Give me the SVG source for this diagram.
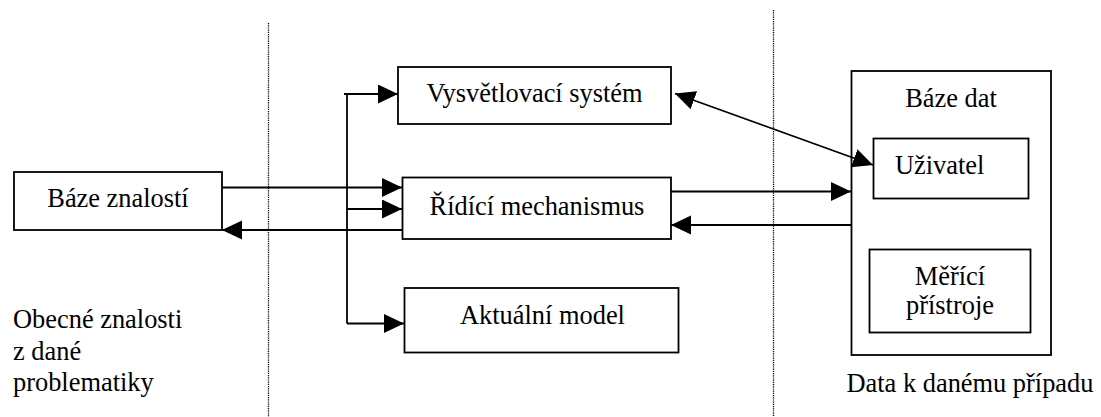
<svg xmlns="http://www.w3.org/2000/svg" width="1101" height="417" viewBox="0 0 1101 417">
<style>
.box{fill:#fff;stroke:#000;stroke-width:1.8}
.t{font-family:'Liberation Serif','Times New Roman',serif;font-size:26.4px;fill:#000}
.m{text-anchor:middle}
.c{fill:none;stroke:#000;stroke-width:1.8}
.a{marker-end:url(#ah)}
.d{fill:none;stroke:#000;stroke-width:1.3;stroke-dasharray:1.2 1}
</style>
<defs>
<marker id="ah" markerUnits="userSpaceOnUse" markerWidth="22" markerHeight="20" refX="20" refY="9.5" orient="auto-start-reverse">
<path d="M0,0 L20,9.5 L0,19 Z" fill="#000"/>
</marker>
</defs>
<g id="dividers">
<line class="d" x1="268.5" y1="23" x2="268.5" y2="417"/>
<line class="d" x1="773.5" y1="10" x2="773.5" y2="417"/>
</g>
<g id="baze-znalosti">
<rect class="box" x="14" y="172" width="208" height="58"/>
<text class="t m" x="118" y="207">Báze znalostí</text>
</g>
<g id="vysvetlovaci-system">
<rect class="box" x="398" y="67" width="273" height="57"/>
<text class="t m" x="534.5" y="102">Vysvětlovací systém</text>
</g>
<g id="ridici-mechanismus">
<rect class="box" x="402.5" y="177.5" width="268.5" height="61.5"/>
<text class="t m" x="537" y="215">Řídící mechanismus</text>
</g>
<g id="aktualni-model">
<rect class="box" x="404.5" y="288" width="274" height="64.5"/>
<text class="t m" x="542.5" y="323.5">Aktuální model</text>
</g>
<g id="baze-dat">
<rect class="box" x="851.5" y="71" width="199.5" height="284"/>
<text class="t m" x="951" y="107">Báze dat</text>
</g>
<g id="uzivatel">
<rect class="box" x="873.5" y="138.5" width="155" height="60"/>
<text class="t" x="895" y="174">Uživatel</text>
</g>
<g id="merici-pristroje">
<rect class="box" x="869.5" y="249.5" width="161" height="83"/>
<text class="t m" x="950" y="285">Měřící</text>
<text class="t m" x="950" y="314">přístroje</text>
</g>
<g id="labels">
<text class="t" x="13" y="328">Obecné znalosti</text>
<text class="t" x="13" y="360">z dané</text>
<text class="t" x="13" y="391">problematiky</text>
<text class="t m" x="970" y="392">Data k danému případu</text>
</g>
<g id="connectors">
<line class="c a" x1="222" y1="187.5" x2="402" y2="187.5"/>
<line class="c" x1="347" y1="93.5" x2="347" y2="323.5"/>
<line class="c a" x1="344" y1="94" x2="398" y2="94"/>
<line class="c a" x1="347" y1="209" x2="402" y2="209"/>
<line class="c a" x1="347" y1="323.5" x2="404" y2="323.5"/>
<line class="c a" x1="402" y1="230" x2="222" y2="230"/>
<line class="c a" x1="671" y1="191.5" x2="851" y2="191.5"/>
<line class="c a" x1="851" y1="225" x2="671" y2="225"/>
<line class="c a" x1="675" y1="93.5" x2="873" y2="165" style="marker-start:url(#ah)"/>
</g>
</svg>
